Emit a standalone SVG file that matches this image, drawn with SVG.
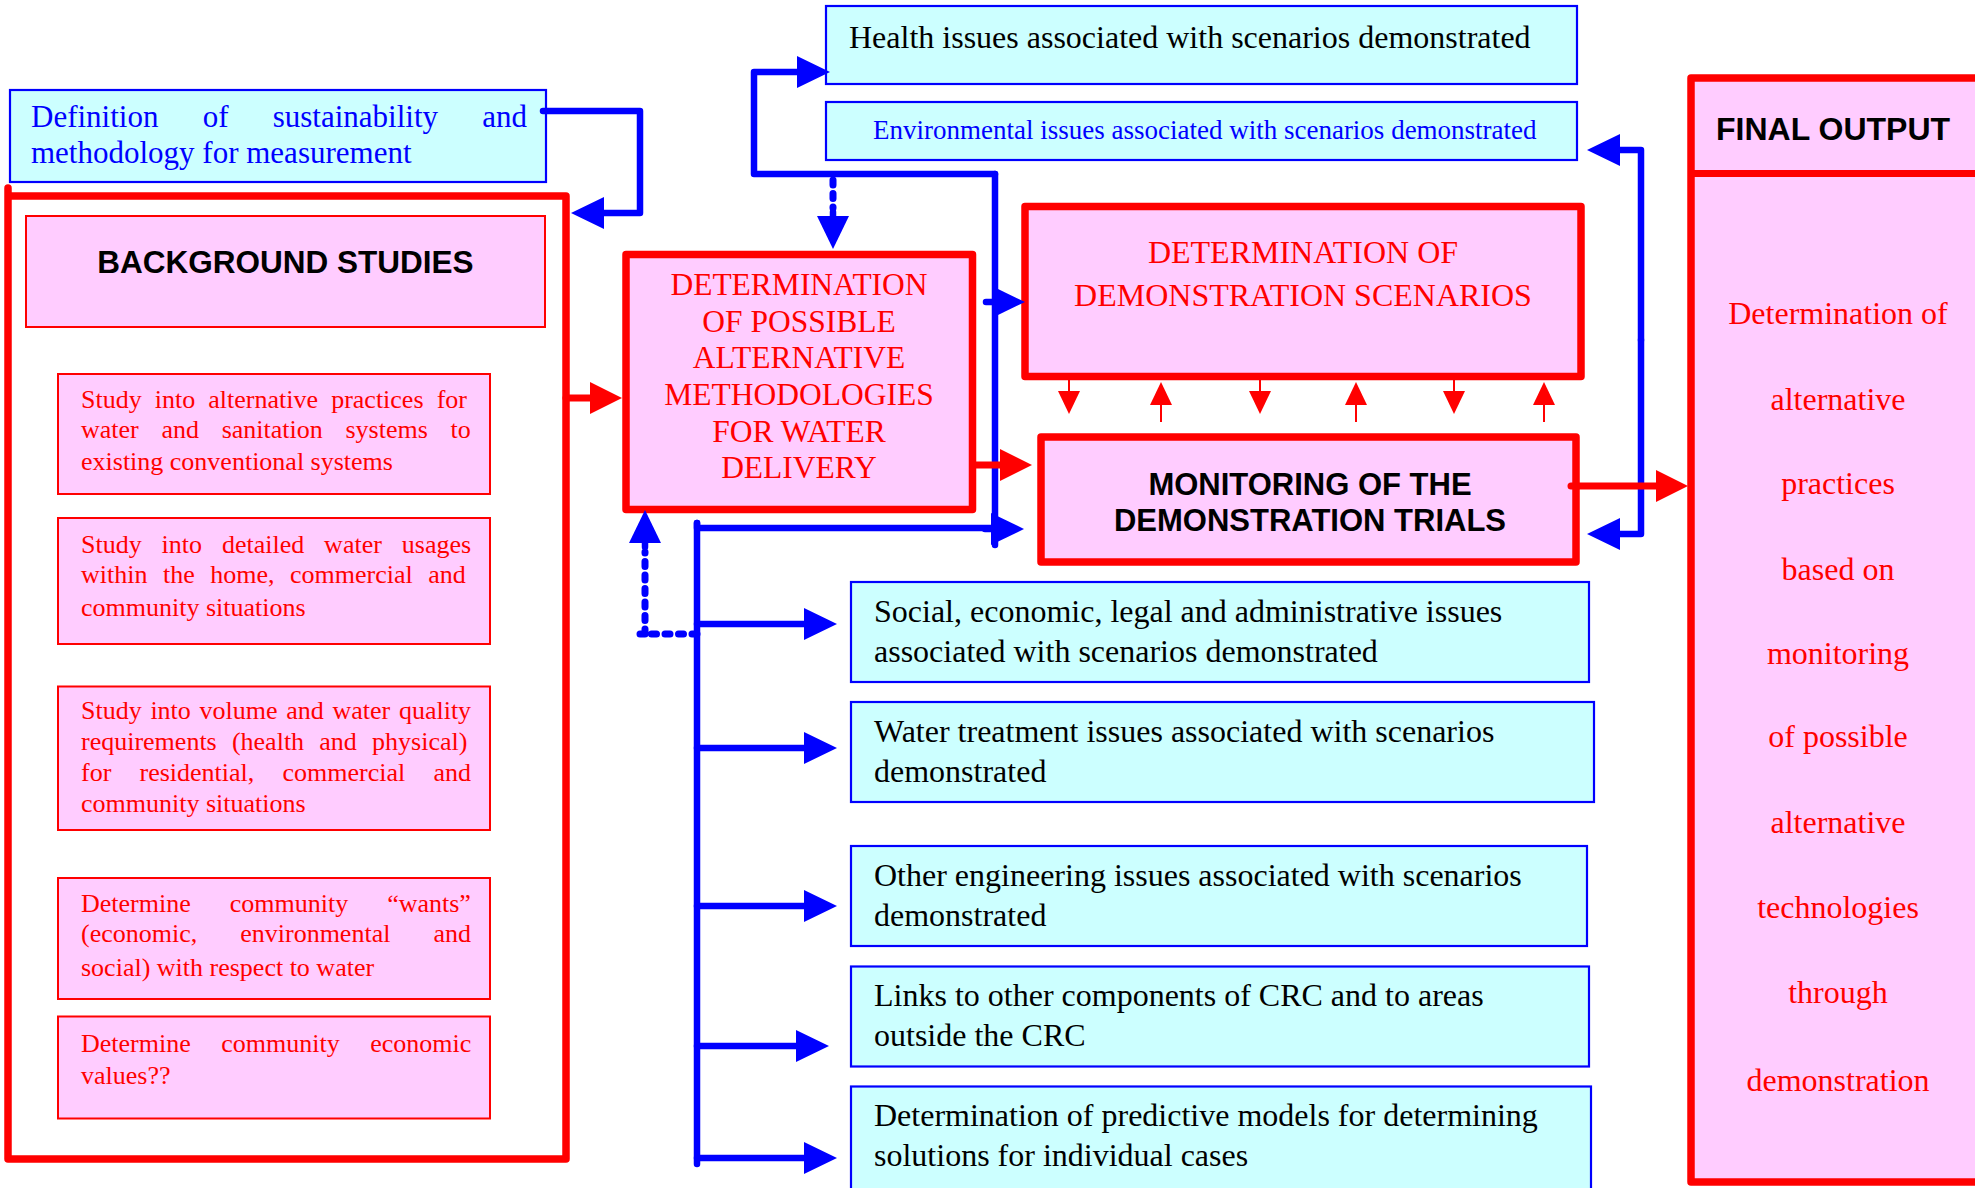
<svg xmlns="http://www.w3.org/2000/svg" width="1975" height="1188" viewBox="0 0 1975 1188">
<style>
.cy{fill:#CCFFFF;stroke:#0000FF;stroke-width:2.2}
.pk{fill:#FFCCFF;stroke:#FF0000;stroke-width:2}
.pkb{fill:#FFCCFF;stroke:#FF0000;stroke-width:7.5;stroke-linejoin:round}
.serif{font-family:"Liberation Serif","Times New Roman",serif}
.sans{font-family:"Liberation Sans",Arial,sans-serif;font-weight:bold;fill:#000}
.st{font-size:26px;fill:#FF0000}
.bt{font-size:32px;fill:#000}
.rt{fill:#FF0000}
.bl{fill:none;stroke:#0000FF;stroke-width:6.5;stroke-linecap:round;stroke-linejoin:round}
.bd{fill:none;stroke:#0000FF;stroke-width:7;stroke-linecap:round;stroke-dasharray:5 8.5}
.rl{fill:none;stroke:#FF0000;stroke-width:7;stroke-linecap:round}
.rs{fill:none;stroke:#FF0000;stroke-width:2}
</style>
<defs>
<marker id="ab" markerUnits="userSpaceOnUse" markerWidth="40" markerHeight="40" refX="0" refY="20" orient="auto" viewBox="0 0 40 40" overflow="visible"><path d="M0,4 L33,20 L0,36 z" fill="#0000FF"/></marker>
<marker id="abs" markerUnits="userSpaceOnUse" markerWidth="40" markerHeight="40" refX="0" refY="20" orient="auto" viewBox="0 0 40 40" overflow="visible"><path d="M0,7 L27,20 L0,33 z" fill="#0000FF"/></marker>
<marker id="ar" markerUnits="userSpaceOnUse" markerWidth="40" markerHeight="40" refX="0" refY="20" orient="auto" viewBox="0 0 40 40" overflow="visible"><path d="M0,4 L32,20 L0,36 z" fill="#FF0000"/></marker>
<marker id="ars" markerUnits="userSpaceOnUse" markerWidth="30" markerHeight="30" refX="0" refY="15" orient="auto" viewBox="0 0 30 30" overflow="visible"><path d="M0,4 L23,15 L0,26 z" fill="#FF0000"/></marker>
</defs>
<rect width="1975" height="1188" fill="#FFFFFF"/>

<g id="background-frame">
<path d="M8,188 V1159 H566 V196 H8" fill="none" stroke="#FF0000" stroke-width="7.5" stroke-linejoin="round" stroke-linecap="round"/>
</g>

<g id="definition">
<rect class="cy" x="10" y="90" width="536" height="92"/>
<text class="serif" font-size="31" fill="#0000FF" x="31" y="127" word-spacing="36.5">Definition of sustainability and</text>
<text class="serif" font-size="31" fill="#0000FF" x="31" y="163">methodology for measurement</text>
</g>

<g id="background-studies">
<rect class="pk" x="26" y="216" width="519" height="111"/>
<text class="sans" font-size="31.5" x="285.5" y="273" text-anchor="middle">BACKGROUND STUDIES</text>
</g>

<g id="study-1">
<rect class="pk" x="58" y="374" width="432" height="120"/>
<text class="serif st" x="81" y="408" word-spacing="6.6">Study into alternative practices for</text>
<text class="serif st" x="81" y="438" word-spacing="16.2">water and sanitation systems to</text>
<text class="serif st" x="81" y="470">existing conventional systems</text>
</g>

<g id="study-2">
<rect class="pk" x="58" y="518" width="432" height="126"/>
<text class="serif st" x="81" y="553" word-spacing="13.4">Study into detailed water usages</text>
<text class="serif st" x="81" y="583" word-spacing="9">within the home, commercial and</text>
<text class="serif st" x="81" y="616">community situations</text>
</g>

<g id="study-3">
<rect class="pk" x="58" y="686.5" width="432" height="143.5"/>
<text class="serif st" x="81" y="719" word-spacing="2.2">Study into volume and water quality</text>
<text class="serif st" x="81" y="750" word-spacing="8.7">requirements (health and physical)</text>
<text class="serif st" x="81" y="781" word-spacing="21.7">for residential, commercial and</text>
<text class="serif st" x="81" y="812">community situations</text>
</g>

<g id="study-4">
<rect class="pk" x="58" y="878" width="432" height="121"/>
<text class="serif st" x="81" y="912" word-spacing="32.5">Determine community “wants”</text>
<text class="serif st" x="81" y="942" word-spacing="36.5">(economic, environmental and</text>
<text class="serif st" x="81" y="976">social) with respect to water</text>
</g>

<g id="study-5">
<rect class="pk" x="58" y="1016.5" width="432" height="102"/>
<text class="serif st" x="81" y="1052" word-spacing="24">Determine community economic</text>
<text class="serif st" x="81" y="1084">values??</text>
</g>

<g id="health">
<rect class="cy" x="826" y="6" width="751" height="78"/>
<text class="serif bt" x="849" y="48">Health issues associated with scenarios demonstrated</text>
</g>

<g id="environmental">
<rect class="cy" x="826" y="102" width="751" height="58"/>
<text class="serif" font-size="27" fill="#0000FF" x="873" y="139">Environmental issues associated with scenarios demonstrated</text>
</g>

<g id="alternative-methodologies">
<rect class="pkb" x="626" y="254.5" width="346.5" height="255"/>
<g class="serif rt" font-size="31.5" text-anchor="middle">
<text x="799" y="295">DETERMINATION</text>
<text x="799" y="332">OF POSSIBLE</text>
<text x="799" y="368">ALTERNATIVE</text>
<text x="799" y="405">METHODOLOGIES</text>
<text x="799" y="442">FOR WATER</text>
<text x="799" y="478">DELIVERY</text>
</g>
</g>

<g id="demonstration-scenarios">
<rect class="pkb" x="1025" y="206.5" width="556" height="170" stroke-width="8"/>
<g class="serif rt" font-size="32" text-anchor="middle">
<text x="1303" y="263">DETERMINATION OF</text>
<text x="1303" y="306">DEMONSTRATION SCENARIOS</text>
</g>
</g>

<g id="monitoring">
<rect class="pkb" x="1041" y="437" width="535" height="125" stroke-width="8"/>
<text class="sans" font-size="31" x="1310" y="495" text-anchor="middle">MONITORING OF THE</text>
<text class="sans" font-size="31" x="1310" y="531" text-anchor="middle">DEMONSTRATION TRIALS</text>
</g>

<g id="social">
<rect class="cy" x="851" y="582" width="738" height="100"/>
<text class="serif bt" x="874" y="622">Social, economic, legal and administrative issues</text>
<text class="serif bt" x="874" y="662">associated with scenarios demonstrated</text>
</g>

<g id="water-treatment">
<rect class="cy" x="851" y="702" width="743" height="100"/>
<text class="serif bt" x="874" y="742">Water treatment issues associated with scenarios</text>
<text class="serif bt" x="874" y="782">demonstrated</text>
</g>

<g id="other-engineering">
<rect class="cy" x="851" y="846" width="736" height="100"/>
<text class="serif bt" x="874" y="886">Other engineering issues associated with scenarios</text>
<text class="serif bt" x="874" y="926">demonstrated</text>
</g>

<g id="links">
<rect class="cy" x="851" y="966.5" width="738" height="100"/>
<text class="serif bt" x="874" y="1006">Links to other components of CRC and to areas</text>
<text class="serif bt" x="874" y="1046">outside the CRC</text>
</g>

<g id="predictive-models">
<rect class="cy" x="851" y="1086.5" width="740" height="106"/>
<text class="serif bt" x="874" y="1126">Determination of predictive models for determining</text>
<text class="serif bt" x="874" y="1166">solutions for individual cases</text>
</g>

<g id="final-output">
<rect x="1691" y="78" width="300" height="1104" fill="#FFCCFF" stroke="#FF0000" stroke-width="7.5" stroke-linejoin="round"/>
<line x1="1691" y1="173.5" x2="1980" y2="173.5" stroke="#FF0000" stroke-width="7"/>
<text class="sans" font-size="32" x="1833" y="140" text-anchor="middle">FINAL OUTPUT</text>
<g class="serif rt" font-size="32" text-anchor="middle">
<text x="1838" y="324">Determination of</text>
<text x="1838" y="410">alternative</text>
<text x="1838" y="494">practices</text>
<text x="1838" y="580">based on</text>
<text x="1838" y="664">monitoring</text>
<text x="1838" y="747">of possible</text>
<text x="1838" y="833">alternative</text>
<text x="1838" y="918">technologies</text>
<text x="1838" y="1003">through</text>
<text x="1838" y="1091">demonstration</text>
</g>
</g>

<g id="connectors">
<path class="bl" d="M543,111 H640 V213 H604" marker-end="url(#ab)"/>
<path class="bl" d="M995,174 H754 V72 H797" marker-end="url(#ab)"/>
<path class="bl" d="M995,174 V545"/>
<path class="bl" d="M986,302 H998" marker-end="url(#abs)"/>
<path class="bl" d="M985,529 H991" marker-end="url(#ab)"/>
<path class="bl" d="M697,523 V528 H995"/>
<path class="bl" d="M697,523 V1164"/>
<path class="bl" d="M697,624 H804" marker-end="url(#ab)"/>
<path class="bl" d="M697,748 H804" marker-end="url(#ab)"/>
<path class="bl" d="M697,906 H804" marker-end="url(#ab)"/>
<path class="bl" d="M697,1046 H796" marker-end="url(#ab)"/>
<path class="bl" d="M697,1158 H804" marker-end="url(#ab)"/>
<path class="bl" d="M1641,340 V150 H1620" marker-end="url(#ab)"/>
<path class="bl" d="M1641,340 V534 H1620" marker-end="url(#ab)"/>
<path class="bd" d="M833,180 V208"/>
<path class="bl" d="M833,212 V216" marker-end="url(#ab)"/>
<path class="bd" d="M697,634 H640 M645,634 V552"/>
<path class="bl" d="M645,547 V543" marker-end="url(#ab)"/>
<path class="rl" d="M566,398 H590" marker-end="url(#ar)"/>
<path class="rl" d="M976,465 H1000" marker-end="url(#ar)"/>
<path class="rl" d="M1571,486 H1656" marker-end="url(#ar)"/>
<path class="rs" d="M1069,379 V391" marker-end="url(#ars)"/>
<path class="rs" d="M1260,379 V391" marker-end="url(#ars)"/>
<path class="rs" d="M1454,379 V391" marker-end="url(#ars)"/>
<path class="rs" d="M1161,422 V405" marker-end="url(#ars)"/>
<path class="rs" d="M1356,422 V405" marker-end="url(#ars)"/>
<path class="rs" d="M1544,422 V405" marker-end="url(#ars)"/>
</g>
</svg>
